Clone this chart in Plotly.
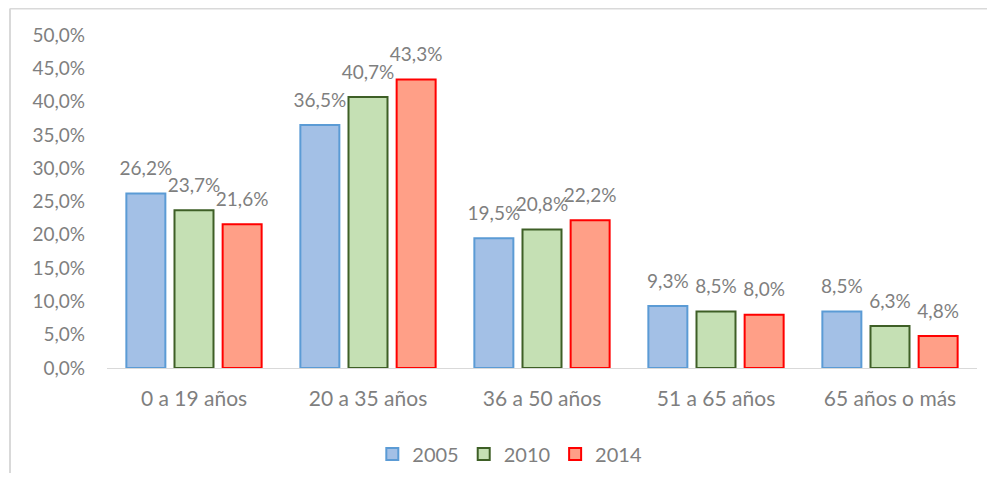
import plotly.graph_objects as go

categories = ["0 a 19 años", "20 a 35 años", "36 a 50 años", "51 a 65 años", "65 años o más"]
years = ["2005", "2010", "2014"]
v2005 = [0.262, 0.365, 0.195, 0.093, 0.085]
v2010 = [0.237, 0.407, 0.208, 0.085, 0.063]
v2014 = [0.216, 0.433, 0.222, 0.080, 0.048]

fills = ["#a3c0e6", "#c5e0b4", "#ff9f87"]
borders = ["#5b9bd5", "#3e5f26", "#ff0000"]
gray = "#7f7f7f"

fig = go.Figure()
for name, vals, fc, bc in zip(years, [v2005, v2010, v2014], fills, borders):
    fig.add_trace(go.Bar(
        x=categories, y=vals, name=name,
        marker=dict(color=fc, line=dict(color=bc, width=2)),
        hoverinfo="skip",
    ))
for name, vals in zip(years, [v2005, v2010, v2014]):
    fig.add_trace(go.Scatter(
        x=categories, y=vals, name=name + " labels", showlegend=False,
        mode="markers+text", marker=dict(size=20, opacity=0),
        texttemplate="%{y:.1%}", textposition="top center",
        textfont=dict(family="Lato", size=19, color=gray),
        cliponaxis=False, hoverinfo="skip",
    ))

# page body has an 8px margin; figure sized to fit inside the window
fig.update_layout(
    width=979, height=465,
    margin=dict(l=99, r=10, t=27, b=105, autoexpand=False),
    paper_bgcolor="white", plot_bgcolor="white",
    separators=",.",
    barmode="group", bargap=0.17, bargroupgap=0.19,
    scattermode="group", scattergap=0.17,
    font=dict(family="Lato", size=18, color=gray),
    showlegend=True,
    legend=dict(orientation="h", x=0.463, xanchor="center", y=-0.2, yanchor="top",
                font=dict(family="Lato", size=20, color=gray),
                itemwidth=30, traceorder="normal"),
    xaxis=dict(showline=True, linecolor="#d9d9d9", linewidth=1, ticks="",
               tickfont=dict(family="Lato", size=21, color=gray), showgrid=False,
               ticklabelstandoff=12),
    yaxis=dict(range=[0, 0.5], dtick=0.05, tickformat=".1%", showgrid=False,
               zeroline=False, tickfont=dict(family="Lato", size=19, color=gray),
               ticklabelstandoff=21),
    shapes=[
        dict(type="line", xref="paper", yref="paper", x0=-0.1115, x1=-0.1115, y0=-0.6, y1=1.0796,
             line=dict(color="#d9d9d9", width=2), layer="below"),
        dict(type="line", xref="paper", yref="paper", x0=-0.1115, x1=1.3, y0=1.0796, y1=1.0796,
             line=dict(color="#d9d9d9", width=2), layer="below"),
    ],
)

fig.write_html("out.html")
